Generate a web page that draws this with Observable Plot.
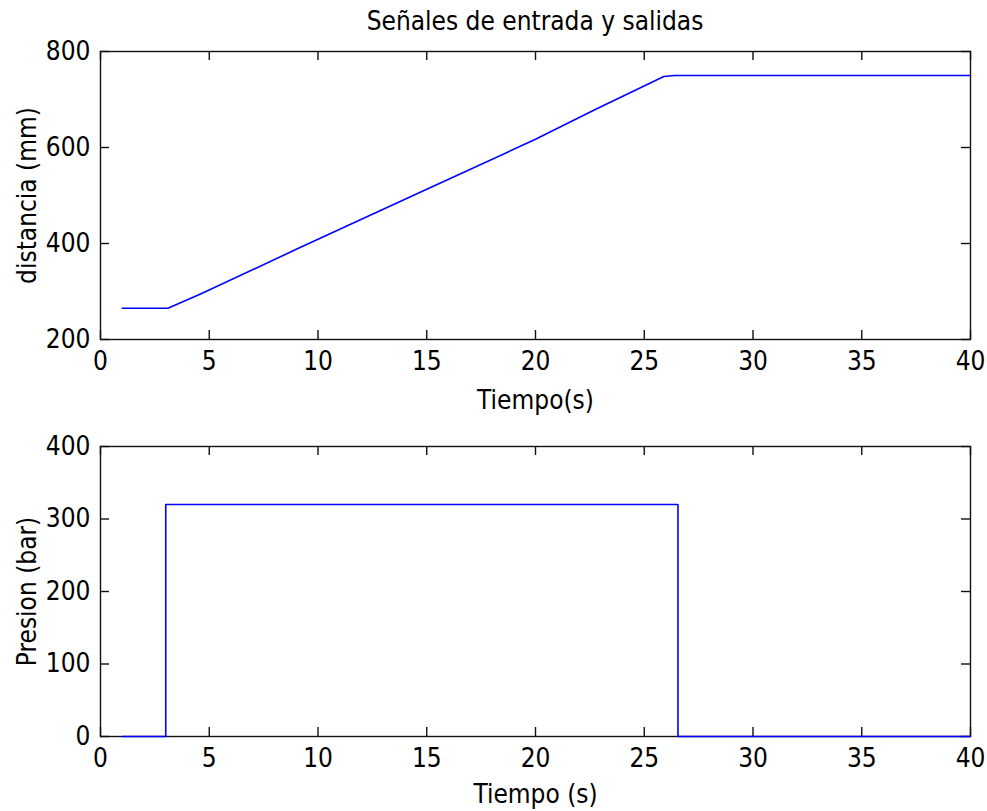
<!DOCTYPE html>
<html>
<head>
<meta charset="utf-8">
<script src="https://cdn.jsdelivr.net/npm/d3@7"></script>
<script src="https://cdn.jsdelivr.net/npm/@observablehq/plot@0.6"></script>
<style>
  body { margin: 0; background: #fff; }
  #title { height: 40px; line-height: 42px; padding-left: 100px; padding-right: 17px; text-align: center;
           font-family: "Liberation Sans Narrow", "DejaVu Sans Condensed", sans-serif; font-size: 26px; color: #000; width: 870px; }
  svg { display: block; }
</style>
</head>
<body>
<div id="title">Señales de entrada y salidas</div>
<div id="chart"></div>
<script>
// Top subplot: distance vs time
const timeDist = [1, 3.1, 4.6, 9.2, 15, 20, 22.7, 25.9, 26.4, 40];
const distance = [265, 265, 295, 392, 513, 617, 678, 748, 750, 750];
// Bottom subplot: pressure vs time (step)
const timePres = [1, 3, 26.55, 40];
const pressure = [0, 320, 0, 0];
// Ticks
const xTicks = [0, 5, 10, 15, 20, 25, 30, 35, 40];
const yTicksTop = [200, 400, 600, 800];
const yTicksBottom = [0, 100, 200, 300, 400];

const FONT = '"Liberation Sans Narrow", "DejaVu Sans Condensed", sans-serif';
const W = 987, ML = 100, MR = 17;
const plotW = W - ML - MR;
const TL = 9; // inward tick length
const axisColor = "#111";

function boxTicks(plotH, yTicks) {
  return [
    Plot.tickX(xTicks, {x: d => d, insetTop: plotH - TL, stroke: axisColor, strokeWidth: 1.4}),
    Plot.tickX(xTicks, {x: d => d, insetBottom: plotH - TL, stroke: axisColor, strokeWidth: 1.4}),
    Plot.tickY(yTicks, {y: d => d, insetRight: plotW - TL, stroke: axisColor, strokeWidth: 1.4}),
    Plot.tickY(yTicks, {y: d => d, insetLeft: plotW - TL, stroke: axisColor, strokeWidth: 1.4})
  ];
}

function subplot({height, marginTop, marginBottom, yDomain, yTicks, xLabel, yLabel, xs, ys, curve, xLabelDy}) {
  const plotH = height - marginTop - marginBottom;
  const data = xs.map((t, i) => ({t, v: ys[i]}));
  return Plot.plot({
    width: W, height, marginTop, marginBottom, marginLeft: ML, marginRight: MR,
    style: {fontFamily: FONT, fontSize: "26px", color: "#000", background: "#fff", overflow: "visible"},
    x: {domain: [0, 40], ticks: xTicks, tickSize: 0, tickPadding: 12, tickFormat: d => String(d), label: null},
    y: {domain: yDomain, ticks: yTicks, tickSize: 0, tickPadding: 10, tickFormat: d => String(d), label: null},
    marks: [
      Plot.frame({stroke: axisColor, strokeWidth: 1.4}),
      ...boxTicks(plotH, yTicks),
      Plot.line(data, {x: "t", y: "v", stroke: "#0000ff", strokeWidth: 1.6, curve}),
      Plot.text([xLabel], {text: d => d, frameAnchor: "bottom", dy: xLabelDy, textAnchor: "middle", lineAnchor: "middle", fill: "#000"}),
      Plot.text([yLabel], {text: d => d, frameAnchor: "left", dx: -73, rotate: -90, textAnchor: "middle", lineAnchor: "middle", fill: "#000"})
    ]
  });
}

const topChart = subplot({height: 380, marginTop: 11, marginBottom: 81, yDomain: [200, 800], yTicks: yTicksTop,
  xLabel: "Tiempo(s)", yLabel: "distancia (mm)", xs: timeDist, ys: distance, curve: "linear", xLabelDy: 61});
const bottomChart = subplot({height: 391, marginTop: 26, marginBottom: 75, yDomain: [0, 400], yTicks: yTicksBottom,
  xLabel: "Tiempo (s)", yLabel: "Presion (bar)", xs: timePres, ys: pressure, curve: "step-after", xLabelDy: 58});

document.getElementById("chart").append(topChart, bottomChart);
</script>
</body>
</html>
